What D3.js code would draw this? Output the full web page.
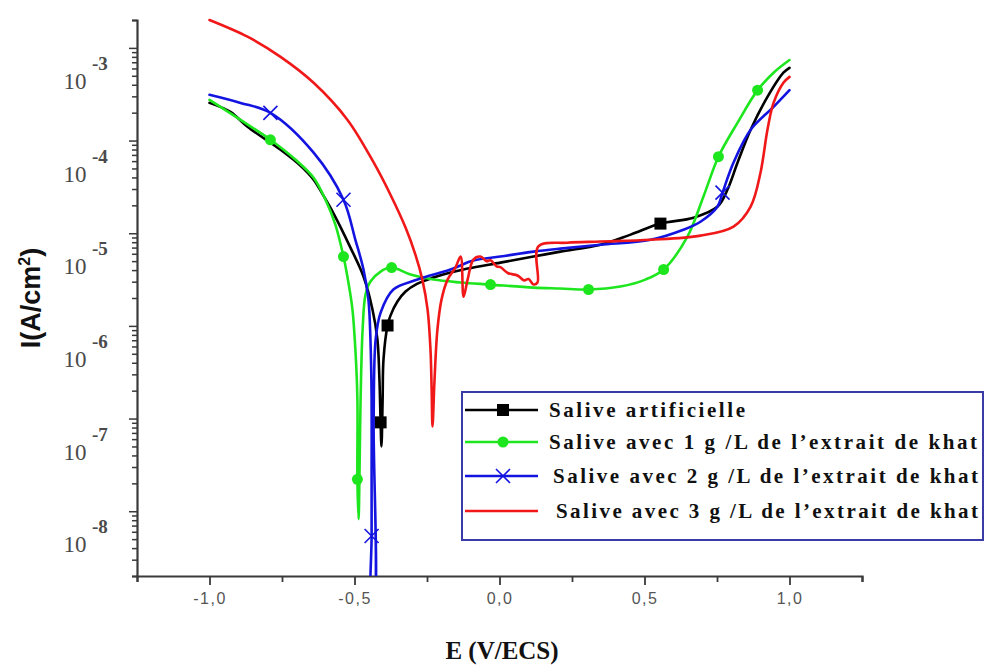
<!DOCTYPE html>
<html>
<head>
<meta charset="utf-8">
<script src="https://cdn.jsdelivr.net/npm/d3@7"></script>
<style>
  body { margin: 0; background: #ffffff; }
  svg { display: block; }
</style>
</head>
<body>
<svg id="chart" width="991" height="669"></svg>
<script>
// Polarisation curves: potential E (V/ECS) and current density I (A/cm²)
const blankE = [-1.0, -0.928, -0.869, -0.755, -0.686, -0.641, -0.607, -0.572, -0.514, -0.469, -0.438, -0.421, -0.414, -0.410, -0.407, -0.403, -0.400, -0.386, -0.376, -0.352, -0.324, -0.283, -0.228, -0.169, -0.110, 0.003, 0.117, 0.210, 0.348, 0.452, 0.555, 0.669, 0.752, 0.786, 0.821, 0.866, 0.924, 0.979, 1.0];
const blankI = [2.55e-4, 2.04e-4, 1.41e-4, 7.96e-5, 5.35e-5, 3.79e-5, 2.54e-5, 1.63e-5, 7.0e-6, 3.41e-6, 1.50e-6, 7.13e-7, 2.64e-7, 9.1e-8, 5.0e-8, 1.61e-7, 4.35e-7, 1.01e-6, 1.29e-6, 1.83e-6, 2.35e-6, 2.86e-6, 3.32e-6, 3.76e-6, 4.16e-6, 4.82e-6, 5.6e-6, 6.33e-6, 7.5e-6, 9.66e-6, 1.27e-5, 1.47e-5, 1.94e-5, 2.95e-5, 5.8e-5, 1.31e-4, 2.96e-4, 5.4e-4, 6.1e-4];
const blankMarks = [13, 17, 30];

const khat1E = [-1.0, -0.893, -0.790, -0.703, -0.641, -0.600, -0.566, -0.538, -0.521, -0.507, -0.497, -0.490, -0.490, -0.486, -0.483, -0.479, -0.472, -0.462, -0.445, -0.410, -0.372, -0.307, -0.228, -0.134, -0.031, 0.117, 0.210, 0.307, 0.417, 0.503, 0.566, 0.648, 0.703, 0.755, 0.821, 0.890, 0.945, 1.0];
const khat1I = [2.75e-4, 1.67e-4, 1.02e-4, 6.2e-5, 3.97e-5, 2.3e-5, 1.24e-5, 5.6e-6, 2.94e-6, 1.50e-6, 5.57e-7, 1.61e-7, 2.21e-8, 8.2e-9, 2.21e-8, 1.61e-7, 9.15e-7, 2.18e-6, 3.01e-6, 3.86e-6, 4.26e-6, 3.58e-6, 3.16e-6, 2.94e-6, 2.79e-6, 2.59e-6, 2.53e-6, 2.47e-6, 2.66e-6, 3.16e-6, 4.06e-6, 9.2e-6, 2.48e-5, 6.7e-5, 1.56e-4, 3.5e-4, 5.4e-4, 7.4e-4];
const khat1Marks = [2, 7, 12, 20, 24, 27, 30, 33, 35];

const khat2E = [-1.0, -0.893, -0.790, -0.641, -0.538, -0.497, -0.469, -0.452, -0.445, -0.441, -0.441, -0.441, -0.441, -0.434, -0.434, -0.427, -0.410, -0.366, -0.283, -0.169, -0.090, 0.003, 0.117, 0.210, 0.348, 0.521, 0.634, 0.693, 0.752, 0.769, 0.807, 0.866, 0.945, 1.0];
const khat2I = [3.12e-4, 2.55e-4, 1.99e-4, 7.4e-5, 2.3e-5, 8.5e-6, 4.06e-6, 1.92e-6, 7.13e-7, 1.61e-7, 2.84e-8, 5.4e-9, 1e-9, 1e-9, 9.8e-8, 7.13e-7, 1.39e-6, 2.47e-6, 3.16e-6, 4.06e-6, 5.07e-6, 5.6e-6, 6.33e-6, 6.82e-6, 7.5e-6, 8.5e-6, 1.09e-5, 1.33e-5, 1.94e-5, 2.74e-5, 5.8e-5, 1.31e-4, 2.31e-4, 3.5e-4];
const khat2Marks = [2, 4, 11, 29];

const khat3E = [-1.0, -0.869, -0.755, -0.641, -0.524, -0.434, -0.376, -0.324, -0.290, -0.266, -0.248, -0.238, -0.234, -0.231, -0.224, -0.214, -0.200, -0.179, -0.152, -0.134, -0.124, -0.110, -0.090, -0.066, -0.045, -0.031, -0.010, 0.003, 0.030, 0.062, 0.085, 0.100, 0.117, 0.131, 0.134, 0.234, 0.348, 0.521, 0.693, 0.807, 0.866, 0.900, 0.924, 0.945, 0.979, 1.0];
const khat3I = [2.0e-3, 1.32e-3, 8.0e-4, 4.2e-4, 1.67e-4, 5.8e-5, 2.6e-5, 1.15e-5, 5.88e-6, 3.16e-6, 1.50e-6, 5.57e-7, 2.06e-7, 8.2e-8, 2.64e-7, 9.15e-7, 1.92e-6, 3.16e-6, 4.26e-6, 5.6e-6, 2.07e-6, 3.16e-6, 5.2e-6, 5.6e-6, 5.0e-6, 5.1e-6, 4.4e-6, 4.3e-6, 3.7e-6, 3.5e-6, 3.1e-6, 3.2e-6, 2.8e-6, 2.94e-6, 7.2e-6, 7.9e-6, 8.13e-6, 8.5e-6, 9.42e-6, 1.18e-5, 1.94e-5, 4.5e-5, 1.31e-4, 2.55e-4, 4.2e-4, 4.87e-4];
const khat3Marks = [];

const seriesLabels = [
  "Salive artificielle",
  "Salive avec 1 g /L de l\u2019extrait de khat",
  "Salive avec 2 g /L de l\u2019extrait de khat",
  "Salive avec 3 g /L de l\u2019extrait de khat"
];
const xTickLabels = [-1.0, -0.5, 0.0, 0.5, 1.0];
const yDecadeLabels = [-3, -4, -5, -6, -7, -8];

const xDomain = [-1.25, 1.25];
const yDomain = [2e-9, 2e-3];

// ---- layout ----
const plot = { left: 137, right: 862, top: 20, bottom: 576 };
const svg = d3.select("#chart");

const x = d3.scaleLinear().domain(xDomain).range([plot.left, plot.right]);
const y = d3.scaleLog().domain(yDomain).range([plot.bottom, plot.top]);

const series = [
  { E: blankE, I: blankI, marks: blankMarks, color: "#000000", marker: "square" },
  { E: khat1E, I: khat1I, marks: khat1Marks, color: "#1ee61e", marker: "circle" },
  { E: khat2E, I: khat2I, marks: khat2Marks, color: "#1414e0", marker: "cross" },
  { E: khat3E, I: khat3I, marks: khat3Marks, color: "#f01818", marker: "none" }
];
series.forEach((s, i) => { s.label = seriesLabels[i]; });

// ---- axes ----
const axisColor = "#3a3a3a";
const commaLocale = d3.formatLocale({ decimal: ",", thousands: ".", grouping: [3], currency: ["", ""], minus: "-" });
const fmtX = commaLocale.format(".1f");

const xTickVals = d3.range(0, 11).map(k => xDomain[0] + k * 0.25);
const isMajorX = v => xTickLabels.some(t => Math.abs(t - v) < 1e-9);

const xAxis = d3.axisBottom(x)
  .tickValues(xTickVals)
  .tickSizeOuter(0)
  .tickSize(6)
  .tickPadding(11)
  .tickFormat(v => isMajorX(v) ? fmtX(v) : "");

const gx = svg.append("g")
  .attr("transform", `translate(0,${plot.bottom})`)
  .call(xAxis);
gx.select(".domain").attr("stroke", axisColor).attr("stroke-width", 2.2);
gx.selectAll(".tick line")
  .attr("stroke", axisColor).attr("stroke-width", 1.8)
  .attr("y2", d => isMajorX(d) ? 9 : 6);
gx.selectAll(".tick text")
  .attr("fill", "#555")
  .attr("font-family", "'Liberation Sans', Arial, sans-serif")
  .attr("font-size", 16)
  .attr("letter-spacing", 1.5);

// log ticks: every m·10^k inside the domain
const yTickVals = [];
for (let k = -9; k <= -3; k++) {
  for (let m = 1; m <= 9; m++) {
    const v = m * Math.pow(10, k);
    if (v >= yDomain[0] * 0.999 && v <= yDomain[1] * 1.001) yTickVals.push(v);
  }
}
const isMajorY = v => Math.abs(Math.log10(v) - Math.round(Math.log10(v))) < 1e-6;

const yAxis = d3.axisLeft(y)
  .tickValues(yTickVals)
  .tickSizeOuter(0)
  .tickSize(5)
  .tickFormat("");

const gy = svg.append("g")
  .attr("transform", `translate(${plot.left},0)`)
  .call(yAxis);
gy.select(".domain").attr("stroke", axisColor).attr("stroke-width", 2.2);
gy.selectAll(".tick line")
  .attr("stroke", axisColor).attr("stroke-width", 1.5)
  .attr("x2", d => isMajorY(d) ? -8 : -5);

// decade labels written as 10 with a superscript exponent
const yLab = svg.append("g").attr("fill", "#4a4a4a");
yLab.selectAll("g.dec")
  .data(yDecadeLabels)
  .join("g")
  .attr("class", "dec")
  .attr("transform", p => `translate(0,${y(Math.pow(10, p)) + 33})`)
  .each(function (p) {
    const g = d3.select(this);
    g.append("text")
      .attr("x", 75).attr("y", 8)
      .attr("text-anchor", "middle")
      .attr("font-family", "'Liberation Serif', 'Times New Roman', serif")
      .attr("font-size", 23)
      .text("10");
    g.append("text")
      .attr("x", 92).attr("y", -11)
      .attr("font-family", "'Liberation Serif', 'Times New Roman', serif")
      .attr("font-size", 19)
      .attr("font-weight", "bold")
      .text("-" + Math.abs(p));
  });

// axis titles
svg.append("text")
  .attr("x", 502).attr("y", 659)
  .attr("text-anchor", "middle")
  .attr("font-family", "'Liberation Serif', 'Times New Roman', serif")
  .attr("font-weight", "bold")
  .attr("font-size", 25)
  .attr("fill", "#111")
  .text("E (V/ECS)");

const yTitle = svg.append("text")
  .attr("transform", "translate(40,298) rotate(-90)")
  .attr("text-anchor", "middle")
  .attr("font-family", "'Liberation Sans', Arial, sans-serif")
  .attr("font-weight", "bold")
  .attr("font-size", 27)
  .attr("fill", "#111");
yTitle.append("tspan").text("I(A/cm");
yTitle.append("tspan").attr("font-size", 16).attr("dy", -10).text("2");
yTitle.append("tspan").attr("dy", 10).text(")");

// ---- curves ----
svg.append("clipPath").attr("id", "plotClip")
  .append("rect")
  .attr("x", plot.left).attr("y", plot.top - 12)
  .attr("width", plot.right - plot.left)
  .attr("height", plot.bottom - plot.top + 12);

const line = d3.line()
  .x(d => x(d[0]))
  .y(d => y(d[1]))
  .curve(d3.curveCatmullRom.alpha(0.5));

const curves = svg.append("g").attr("clip-path", "url(#plotClip)");

function drawMarker(g, kind, color, cx, cy) {
  if (kind === "square") {
    g.append("rect").attr("x", cx - 6).attr("y", cy - 6)
      .attr("width", 12).attr("height", 12).attr("fill", color);
  } else if (kind === "circle") {
    g.append("circle").attr("cx", cx).attr("cy", cy).attr("r", 5.5).attr("fill", color);
  } else if (kind === "cross") {
    const r = 7;
    g.append("path")
      .attr("d", `M${cx - r},${cy - r}L${cx + r},${cy + r}M${cx - r},${cy + r}L${cx + r},${cy - r}`)
      .attr("stroke", color).attr("stroke-width", 1.6).attr("fill", "none");
  }
}

series.forEach(s => {
  const pts = s.E.map((e, i) => [e, s.I[i]]);
  curves.append("path")
    .datum(pts)
    .attr("fill", "none")
    .attr("stroke", s.color)
    .attr("stroke-width", 2.6)
    .attr("stroke-linejoin", "round")
    .attr("stroke-linecap", "round")
    .attr("d", line);
  const mg = curves.append("g");
  s.marks.forEach(i => drawMarker(mg, s.marker, s.color, x(s.E[i]), y(s.I[i])));
});

// ---- legend ----
const legend = svg.append("g");
legend.append("rect")
  .attr("x", 462).attr("y", 392)
  .attr("width", 521).attr("height", 148)
  .attr("fill", "#ffffff")
  .attr("stroke", "#3b3ba8")
  .attr("stroke-width", 2);

const legendRowsY = [410, 442, 476, 511];
const legendTextX = [549, 549, 553, 556];
const legendTextLen = [196, 428, 425, 422];

series.forEach((s, i) => {
  const ly = legendRowsY[i];
  legend.append("line")
    .attr("x1", 465).attr("x2", 538)
    .attr("y1", ly).attr("y2", ly)
    .attr("stroke", s.color).attr("stroke-width", 2.6);
  drawMarker(legend, s.marker, s.color, 503, ly);
  legend.append("text")
    .attr("x", legendTextX[i]).attr("y", ly + 7)
    .attr("font-family", "'Liberation Serif', 'Times New Roman', serif")
    .attr("font-weight", "bold")
    .attr("font-size", 21)
    .attr("fill", "#111")
    .attr("textLength", legendTextLen[i])
    .attr("lengthAdjust", "spacing")
    .text(s.label);
});
</script>
</body>
</html>
